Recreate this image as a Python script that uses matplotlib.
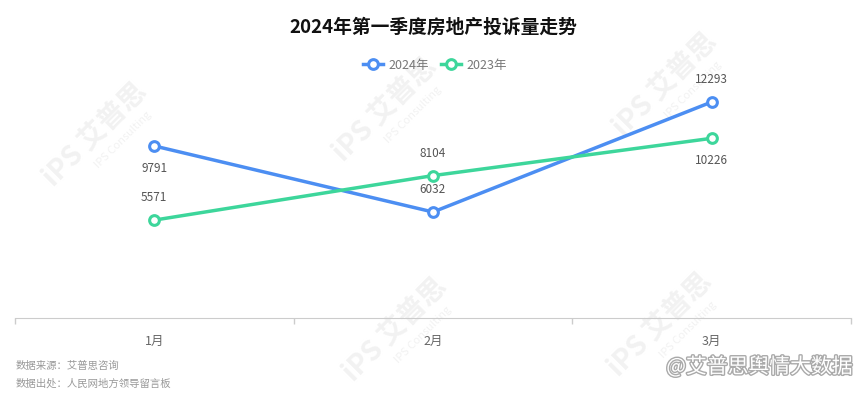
import matplotlib.pyplot as plt
import matplotlib.patheffects as pe

plt.rcParams['font.family'] = ['Noto Sans CJK SC', 'DejaVu Sans']

months = ['1月', '2月', '3月']
y2024 = [9791, 6032, 12293]
y2023 = [5571, 8104, 10226]
# label placement: +1 above point, -1 below
pos2024 = [-1, 1, 1]
pos2023 = [1, 1, -1]

blue = '#4c8ef2'
green = '#3dd69b'

fig = plt.figure(figsize=(8.67, 3.97), dpi=100)
ax = fig.add_axes([15 / 867, 79 / 397, 836 / 867, 246 / 397])
ax.set_zorder(2)

x = list(range(len(months)))
ax.plot(x, y2024, color=blue, lw=2.5, marker='o', ms=7, mfc='white', mec=blue, mew=2.2,
        label='2024年', zorder=3)
ax.plot(x, y2023, color=green, lw=2.5, marker='o', ms=7, mfc='white', mec=green, mew=2.2,
        label='2023年', zorder=3)

for vals, pos in [(y2024, pos2024), (y2023, pos2023)]:
    for i, (v, p) in enumerate(zip(vals, pos)):
        ax.annotate(str(v), (i, v), xytext=(0, 16 * p), textcoords='offset points',
                    ha='center', va='center', fontsize=8.5, color='#555555')

ax.set_xlim(-0.5, 2.5)
ax.set_ylim(0, 14000)
ax.set_yticks([])
ax.set_xticks([-0.5, 0.5, 1.5, 2.5])
ax.set_xticklabels([])
ax.set_xticks(x, minor=True)
ax.set_xticklabels(months, minor=True)
ax.tick_params(axis='x', which='major', length=4, color='#cccccc', width=1)
ax.tick_params(axis='x', which='minor', length=0, pad=12, labelsize=9, labelcolor='#666666')
for s in ['top', 'right', 'left']:
    ax.spines[s].set_visible(False)
ax.spines['bottom'].set_color('#cccccc')
ax.patch.set_alpha(0)

fig.text(433 / 867, 1 - 27 / 397, '2024年第一季度房地产投诉量走势', ha='center', va='center',
         fontsize=13.5, fontweight='bold', color='#111111')
leg = fig.legend(loc='center', bbox_to_anchor=(435 / 867, 1 - 65 / 397), ncol=2, frameon=False,
                 fontsize=9, handlelength=1.6, columnspacing=1.0, handletextpad=0.4)
for t in leg.get_texts():
    t.set_color('#777777')

fig.text(16 / 867, 1 - 366 / 397, '数据来源：艾普思咨询', fontsize=7.5, color='#999999', va='center')
fig.text(16 / 867, 1 - 384 / 397, '数据出处：人民网地方领导留言板', fontsize=7.5, color='#999999', va='center')

# faint diagonal watermarks
for wx, wy in [(95, 135), (385, 110), (665, 85), (395, 330), (660, 325)]:
    fig.text(wx / 867, 1 - wy / 397, 'iPS 艾普思', fontsize=20, fontweight='bold', color='#f2f2f2',
             rotation=45, ha='center', va='center', zorder=0)
    fig.text((wx + 28) / 867, 1 - (wy + 5) / 397, 'IPS Consulting', fontsize=8, color='#f2f2f2',
             rotation=45, ha='center', va='center', zorder=0)

fig.text(853 / 867, 1 - 367 / 397, '@艾普思舆情大数据', fontsize=15, color='white', ha='right',
         va='center', path_effects=[pe.withStroke(linewidth=2, foreground='#aaaaaa')])

fig.savefig('out.png', dpi=100)
